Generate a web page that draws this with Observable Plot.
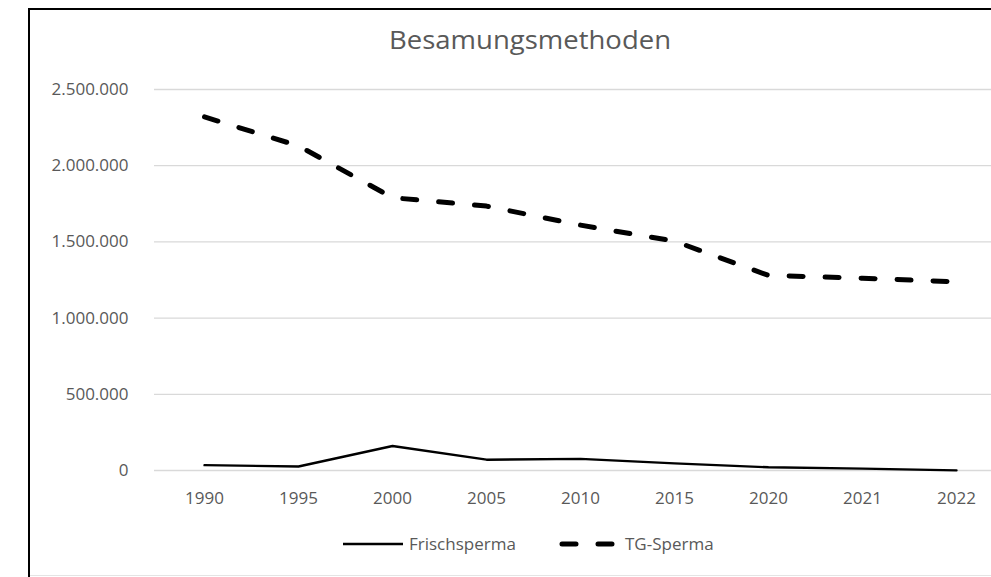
<!DOCTYPE html>
<html>
<head>
<meta charset="utf-8">
<script src="https://cdn.jsdelivr.net/npm/d3@7"></script>
<script src="https://cdn.jsdelivr.net/npm/@observablehq/plot@0.6"></script>
<style>
  html, body { margin: 0; padding: 0; background: #fff; overflow: hidden; width: 991px; height: 577px; }
  #frame { position: absolute; left: 28px; top: 8px; width: 1200px; height: 800px; border: 2.5px solid #000; box-sizing: border-box; }
  #bottomline { position: absolute; left: 30px; top: 575px; width: 1000px; height: 1px; background: #e4e4e4; }
  #title { position: absolute; left: 280px; width: 500px; top: 27px; text-align: center; font-family: 'Open Sans', sans-serif; font-size: 25px; line-height: 1; color: #595959; transform: scaleX(1.1); }
  #chart { position: absolute; left: 0; top: 0; width: 1010px; }
  #chart svg { max-width: none !important; }
  #legend { position: absolute; left: 0; top: 0; }
</style>
</head>
<body>
<div id="frame"></div>
<div id="bottomline"></div>
<div id="chart"></div>
<div id="title">Besamungsmethoden</div>
<svg id="legend" width="991" height="577"></svg>
<script>
const years = ["1990", "1995", "2000", "2005", "2010", "2015", "2020", "2021", "2022"];
const frischsperma = [35000, 26000, 161000, 71000, 76000, 47000, 21000, 12000, 1000];
const tgSperma = [2320000, 2130000, 1790000, 1735000, 1610000, 1505000, 1280000, 1262000, 1238000];
const yTicks = [0, 500000, 1000000, 1500000, 2000000, 2500000];
const seriesNames = ["Frischsperma", "TG-Sperma"];

const de = d3.formatLocale({decimal: ",", thousands: ".", grouping: [3], currency: ["", " €"]});
const fmt = de.format(",");

const rows = years.map((y, i) => ({year: y, frisch: frischsperma[i], tg: tgSperma[i]}));

const chart = Plot.plot({
  width: 1010,
  height: 520,
  marginLeft: 154,
  marginRight: 5,
  marginTop: 89,
  marginBottom: 50,
  style: {fontFamily: "'Open Sans', sans-serif", fontSize: "17px", color: "#595959", background: "transparent", overflow: "visible", maxWidth: "none"},
  x: {type: "point", domain: years, padding: 0.5},
  y: {domain: [0, 2500000]},
  marks: [
    Plot.gridY(yTicks, {stroke: "#d9d9d9", strokeOpacity: 1, strokeWidth: 1.3}),
    Plot.axisY(yTicks, {tickSize: 0, tickPadding: 26, tickFormat: fmt, label: null}),
    Plot.axisX({tickSize: 0, tickPadding: 21, label: null}),
    Plot.lineY(rows, {x: "year", y: "frisch", stroke: "#000", strokeWidth: 2.4, strokeLinejoin: "round"}),
    Plot.lineY(rows, {x: "year", y: "tg", stroke: "#000", strokeWidth: 5, strokeDasharray: "14,22", strokeLinecap: "round", strokeLinejoin: "round"})
  ]
});
document.getElementById("chart").appendChild(chart);

// Legend
const lg = d3.select("#legend");
lg.append("line").attr("x1", 343).attr("x2", 403).attr("y1", 544).attr("y2", 544)
  .attr("stroke", "#000").attr("stroke-width", 2.4);
lg.append("text").attr("x", 409).attr("y", 550).text(seriesNames[0])
  .attr("fill", "#595959").attr("font-family", "'Open Sans', sans-serif").attr("font-size", 17);
lg.append("line").attr("x1", 562).attr("x2", 613).attr("y1", 544).attr("y2", 544)
  .attr("stroke", "#000").attr("stroke-width", 5).attr("stroke-linecap", "round").attr("stroke-dasharray", "14,22");
lg.append("text").attr("x", 625).attr("y", 550).text(seriesNames[1])
  .attr("fill", "#595959").attr("font-family", "'Open Sans', sans-serif").attr("font-size", 17);
</script>
</body>
</html>
